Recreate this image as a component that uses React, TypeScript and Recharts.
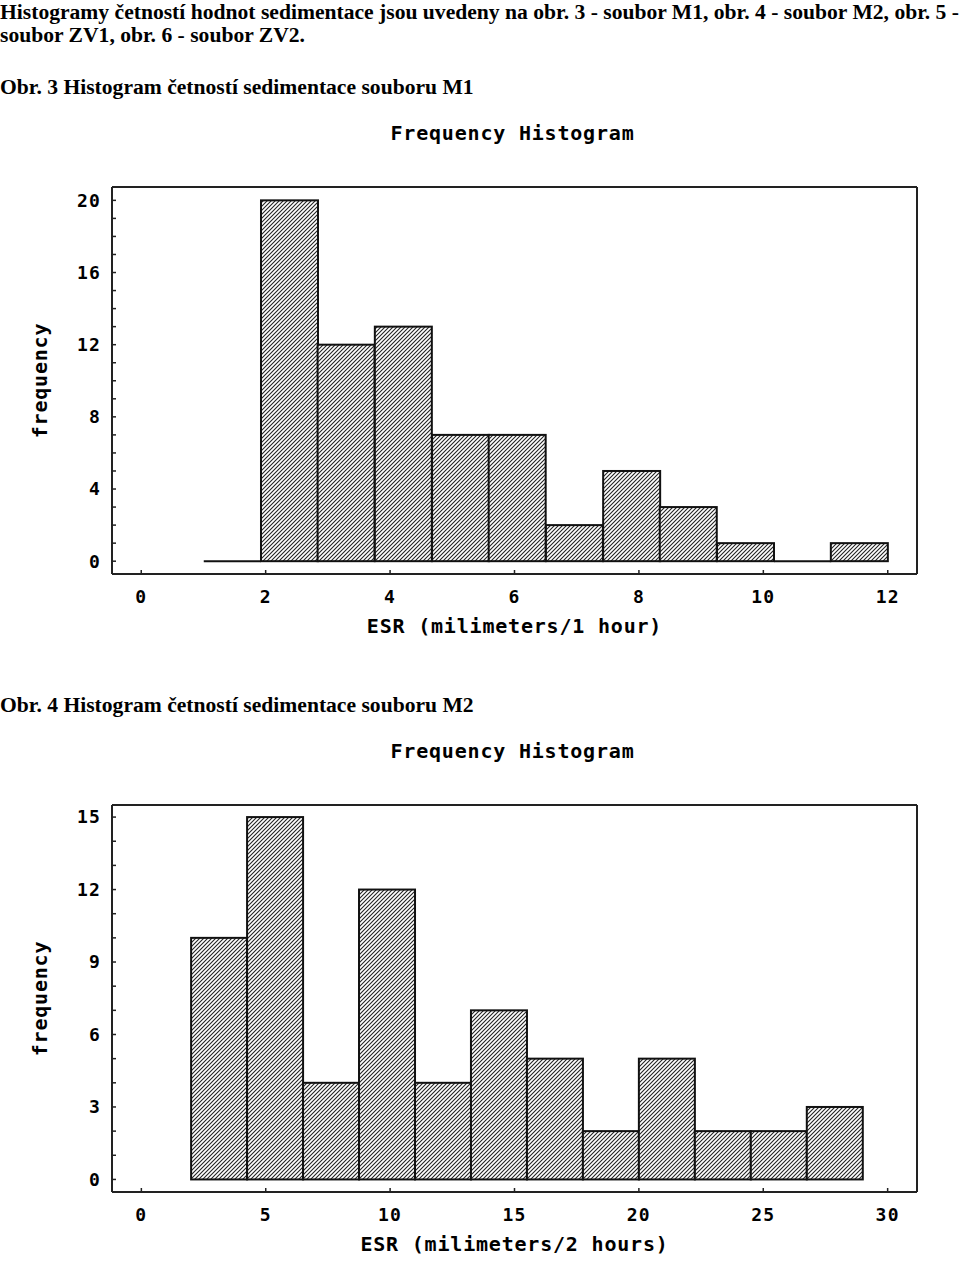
import React from 'react';
import { BarChart, Bar, XAxis, YAxis } from 'recharts';

// Obr. 3 - soubor M1 (ESR after 1 hour), 12 bins from 1 to 12
const m1Mids = [1.46, 2.38, 3.29, 4.21, 5.13, 6.04, 6.96, 7.88, 8.79, 9.71, 10.63, 11.54];
const m1Counts = [0, 20, 12, 13, 7, 7, 2, 5, 3, 1, 0, 1];
const m1XTicks = [0, 2, 4, 6, 8, 10, 12];
const m1YTicks = [0, 1, 2, 3, 4, 5, 6, 7, 8, 9, 10, 11, 12, 13, 14, 15, 16, 17, 18, 19, 20];
const m1YLabels = [0, 4, 8, 12, 16, 20];

// Obr. 4 - soubor M2 (ESR after 2 hours), 12 bins from 2 to 29
const m2Mids = [3.125, 5.375, 7.625, 9.875, 12.125, 14.375, 16.625, 18.875, 21.125, 23.375, 25.625, 27.875];
const m2Counts = [10, 15, 4, 12, 4, 7, 5, 2, 5, 2, 2, 3];
const m2XTicks = [0, 5, 10, 15, 20, 25, 30];
const m2YTicks = [0, 1, 2, 3, 4, 5, 6, 7, 8, 9, 10, 11, 12, 13, 14, 15];
const m2YLabels = [0, 3, 6, 9, 12, 15];

const MONO = '"DejaVu Sans Mono", "Liberation Mono", monospace';
const SERIF = '"Liberation Serif", "Times New Roman", serif';

const frame = { stroke: '#222', strokeWidth: 2 };
const tickLine = { stroke: '#222', strokeWidth: 1.5 };
const tickText = { fill: '#000', fontSize: 18, fontFamily: MONO, fontWeight: 700, letterSpacing: 1.2 };
const labelText = { fill: '#000', fontSize: 20, fontFamily: MONO, fontWeight: 700, letterSpacing: 0.8 };

function HatchBar(props: any) {
    const { x, y, width, height, fill } = props;
    if (!height) {
        return <line x1={x} x2={x + width} y1={y} y2={y} stroke="#111" strokeWidth={2} />;
    }
    return <rect x={x} y={y} width={width} height={height} fill={fill} stroke="#111" strokeWidth={2} />;
}

interface HistProps {
    mids: number[];
    counts: number[];
    xTicks: number[];
    xDomain: [number, number];
    yTicks: number[];
    yLabels: number[];
    yDomain: [number, number];
    xLabel: string;
    hatchId: string;
}

function Histogram({ mids, counts, xTicks, xDomain, yTicks, yLabels, yDomain, xLabel, hatchId }: HistProps) {
    const data = mids.map((m, i) => ({ mid: m, count: counts[i] }));

    return (
        <BarChart
            width={960}
            height={560}
            data={data}
            margin={{ top: 0, right: 0, bottom: 0, left: 0 }}
            barCategoryGap={0}
            barGap={0}
        >
            <defs>
                <pattern id={hatchId} patternUnits="userSpaceOnUse" width={4} height={4}>
                    <rect width={4} height={4} fill="#fff" />
                    <path d="M-1,1 L1,-1 M0,4 L4,0 M3,5 L5,3" stroke="#222" strokeWidth={1.1} />
                </pattern>
            </defs>
            <XAxis
                xAxisId="b"
                dataKey="mid"
                type="number"
                domain={xDomain}
                allowDataOverflow
                ticks={xTicks}
                interval={0}
                height={86}
                tickSize={-4}
                tickMargin={20}
                axisLine={frame}
                tickLine={tickLine}
                tick={tickText}
                label={{ value: xLabel, position: 'insideBottom', offset: 27, ...labelText }}
            />
            <XAxis
                xAxisId="t"
                orientation="top"
                dataKey="mid"
                type="number"
                domain={xDomain}
                allowDataOverflow
                ticks={xTicks}
                interval={0}
                height={87}
                tickSize={-4}
                axisLine={frame}
                tickLine={tickLine}
                tick={false}
                label={{ value: 'Frequency Histogram', position: 'insideTop', offset: 26, dx: -2, ...labelText }}
            />
            <YAxis
                yAxisId="l"
                type="number"
                domain={yDomain}
                allowDataOverflow
                ticks={yTicks}
                interval={0}
                width={112}
                tickSize={-4}
                tickMargin={15}
                axisLine={frame}
                tickLine={tickLine}
                tick={tickText}
                tickFormatter={(v: number) => (yLabels.includes(v) ? String(v) : '')}
                label={{ value: 'frequency', angle: -90, position: 'insideLeft', offset: 40, textAnchor: 'middle', ...labelText }}
            />
            <YAxis
                yAxisId="r"
                orientation="right"
                type="number"
                domain={yDomain}
                allowDataOverflow
                ticks={yTicks}
                interval={0}
                width={43}
                tickSize={-4}
                axisLine={frame}
                tickLine={tickLine}
                tick={false}
            />
            <Bar
                xAxisId="b"
                yAxisId="l"
                dataKey="count"
                fill={`url(#${hatchId})`}
                shape={HatchBar}
                isAnimationActive={false}
            />
        </BarChart>
    );
}

const textLine: React.CSSProperties = {
    position: 'absolute',
    left: 0,
    whiteSpace: 'nowrap',
    fontFamily: SERIF,
    fontWeight: 700,
    fontSize: 21.6,
    lineHeight: '23px',
    color: '#000',
};

export default function App() {
    return (
        <div style={{ position: 'absolute', left: 0, top: 0, width: 960, height: 1261, background: '#fff' }}>
            <div style={{ ...textLine, top: 1 }}>
                Histogramy četností hodnot sedimentace jsou uvedeny na obr. 3 - soubor M1, obr. 4 - soubor M2, obr. 5 -
            </div>
            <div style={{ ...textLine, top: 24 }}>soubor ZV1, obr. 6 - soubor ZV2.</div>
            <div style={{ ...textLine, top: 76 }}>Obr. 3 Histogram četností sedimentace souboru M1</div>

            <div style={{ position: 'absolute', left: 0, top: 100 }}>
                <Histogram
                    mids={m1Mids}
                    counts={m1Counts}
                    xTicks={m1XTicks}
                    xDomain={[-0.47, 12.47]}
                    yTicks={m1YTicks}
                    yLabels={m1YLabels}
                    yDomain={[-0.71, 20.74]}
                    xLabel="ESR (milimeters/1 hour)"
                    hatchId="hatchM1"
                />
            </div>

            <div style={{ ...textLine, top: 694 }}>Obr. 4 Histogram četností sedimentace souboru M2</div>

            <div style={{ position: 'absolute', left: 0, top: 718 }}>
                <Histogram
                    mids={m2Mids}
                    counts={m2Counts}
                    xTicks={m2XTicks}
                    xDomain={[-1.18, 31.18]}
                    yTicks={m2YTicks}
                    yLabels={m2YLabels}
                    yDomain={[-0.52, 15.5]}
                    xLabel="ESR (milimeters/2 hours)"
                    hatchId="hatchM2"
                />
            </div>
        </div>
    );
}
